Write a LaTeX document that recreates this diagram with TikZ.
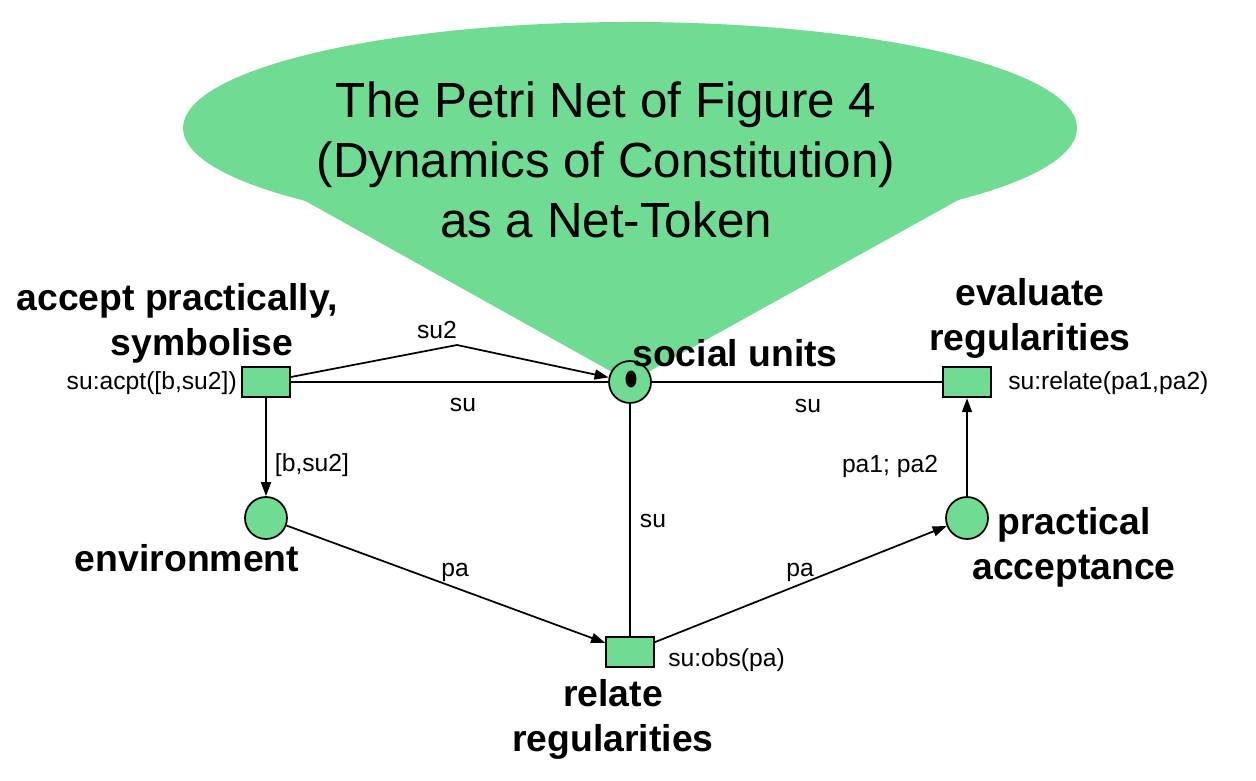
\documentclass[tikz,border=0pt]{standalone}
\usepackage{fontspec}
\setmainfont{Liberation Sans}
\usetikzlibrary{arrows.meta,calc}
\definecolor{petri}{RGB}{112,219,147}
\begin{document}
\begin{tikzpicture}[x=0.75pt,y=-0.75pt,
  place/.style={circle,draw,fill=petri,line width=1.3pt,minimum size=31.5pt,inner sep=0pt},
  trans/.style={rectangle,draw,fill=petri,line width=1.3pt,minimum width=36pt,minimum height=23pt,inner sep=0pt},
  arc/.style={line width=1.3pt},
  arr/.style={arc,-{Triangle[length=10.5pt,width=7.5pt]}},
  lbl/.style={font=\fontsize{18.5}{22}\selectfont,inner sep=0pt},
  bold/.style={font=\fontsize{28}{33.75}\selectfont\bfseries,align=center,inner sep=0pt},
  title/.style={font=\fontsize{37}{45}\selectfont,align=center,inner sep=0pt}]
\useasboundingbox (0,0) rectangle (1256,781);
% callout bubble
\fill[petri] (630,128) ellipse [x radius=447, y radius=106];
\fill[petri] (300,198) -- (630,382) -- (962,198) -- (630,140) -- cycle;
\node[title] (ttl) at (606,160) {The Petri Net of Figure 4\\(Dynamics of Constitution)\\as a Net-Token};
% net
\node[place] (su) at (630,382) {};
\fill (631,379) ellipse [x radius=5.5, y radius=8.5];
\node[trans] (acpt) at (266,382) {};
\node[trans] (eval) at (967,382) {};
\node[place] (env) at (266,518) {};
\node[place] (pa) at (967,518) {};
\node[trans] (obs) at (630,652) {};
\coordinate (p2) at (457,345);
\draw[arc] (acpt.east) -- (su);
\draw[arr] ($(acpt.east)+(0,-5)$) -- (p2) -- (su);
\draw[arc] (su) -- (eval);
\draw[arc] (su) -- (obs);
\draw[arr] (acpt) -- (env);
\draw[arr] (env) -- (obs);
\draw[arr] (obs) -- (pa);
\draw[arr] (pa) -- (eval);
% arc labels
\node[lbl] (l1) at (437,330) {su2};
\node[lbl] (l2) at (463,405) {su};
\node[lbl] (l3) at (808,406) {su};
\node[lbl] (l4) at (653,521) {su};
\node[lbl] (l5) at (312,465) {[b,su2]};
\node[lbl] (l6) at (455,572) {pa};
\node[lbl] (l7) at (800,572) {pa};
\node[lbl] (l8) at (890,466) {pa1; pa2};
% inscriptions
\node[lbl,anchor=east] (i1) at (237,383) {su:acpt([b,su2])};
\node[lbl,anchor=west] (i2) at (1008,383) {su:relate(pa1,pa2)};
\node[lbl,anchor=west] (i3) at (668,660) {su:obs(pa)};
% names
\node[bold] (n1) at (177,323) {accept practically,\\\hspace*{37.5pt}symbolise};
\node[bold,anchor=base] (n2) at (187,571) {environment};
\node[bold,anchor=base] (n3) at (735,366) {social units};
\node[bold] (n4) at (1030,318) {evaluate\\regularities};
\node[bold] (n5) at (1074,547) {practical\\acceptance};
\node[bold] (n6) at (613,719) {relate\\regularities};
\end{tikzpicture}
\end{document}
